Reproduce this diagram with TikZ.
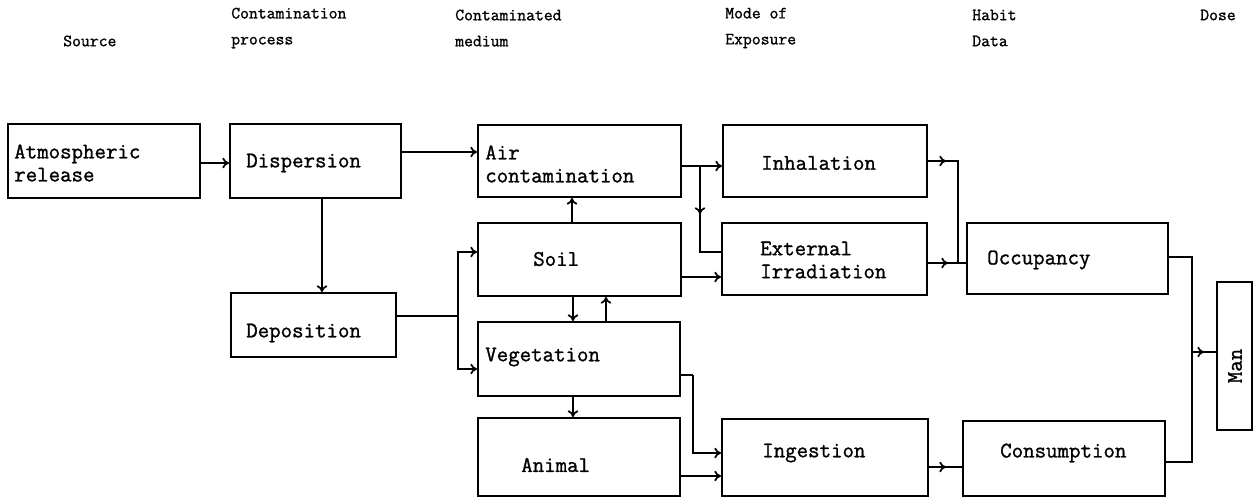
\documentclass[tikz,border=0pt]{standalone}
\usepackage{fontspec}
\setmonofont{Latin Modern Mono}[FakeBold=1.2]
\usetikzlibrary{arrows.meta,fit}
\begin{document}
\begin{tikzpicture}[x=0.75pt,y=-0.75pt,
  bx/.style={draw, line width=1.5pt, inner sep=0pt},
  lbl/.style={font=\fontsize{16.7}{17.25}\selectfont\ttfamily, align=left, inner sep=0pt, anchor=west},
  hdr/.style={font=\fontsize{12.9}{19.5}\selectfont\ttfamily, align=left, inner sep=0pt, anchor=west},
  ln/.style={line width=1.3pt},
  arr/.style={ln, -{To[length=5pt,width=8pt]}}]
\useasboundingbox (0,0) rectangle (1256,498);
% headers
\node[hdr] (h1) at (63,41) {Source};
\node[hdr] (h2) at (231,28) {Contamination\\process};
\node[hdr] (h3) at (455,28) {Contaminated\\medium};
\node[hdr] (h4) at (725,28) {Mode of\\Exposure};
\node[hdr] (h5) at (972,28) {Habit\\Data};
\node[hdr] (h6) at (1200,15) {Dose};
% boxes
\node[bx, fit={(8,124) (200,198)}] (atm) {};
\node[bx, fit={(230,124) (401,198)}] (disp) {};
\node[bx, fit={(478,125) (681,197)}] (air) {};
\node[bx, fit={(723,125) (927,197)}] (inh) {};
\node[bx, fit={(478,223) (681,296)}] (soil) {};
\node[bx, fit={(722,223) (927,295)}] (ext) {};
\node[bx, fit={(967,223) (1168,294)}] (occ) {};
\node[bx, fit={(231,293) (396,357)}] (dep) {};
\node[bx, fit={(478,322) (680,396)}] (veg) {};
\node[bx, fit={(478,418) (680,496)}] (ani) {};
\node[bx, fit={(722,419) (928,496)}] (ing) {};
\node[bx, fit={(963,421) (1165,496)}] (con) {};
\node[bx, fit={(1217,282) (1252,430)}] (man) {};
% labels
\node[lbl] (latm) at (14,163) {Atmospheric\\release};
\node[lbl] (ldisp) at (246,163) {Dispersion};
\node[lbl] (lair) at (485,164) {Air\\contamination};
\node[lbl] (linh) at (761,163) {Inhalation};
\node[lbl] (lsoil) at (533,259) {Soil};
\node[lbl] (lext) at (760,260) {External\\Irradiation};
\node[lbl] (locc) at (987,260) {Occupancy};
\node[lbl] (ldep) at (246,333) {Deposition};
\node[lbl] (lveg) at (485,357) {Vegetation};
\node[lbl] (lani) at (521,465) {Animal};
\node[lbl] (ling) at (762,453) {Ingestion};
\node[lbl] (lcon) at (1000,453) {Consumption};
\node[lbl, anchor=center, rotate=90] (lman) at (1235,366) {Man};
% connectors
\draw[arr] (atm.east |- 0,163) -- (disp.west |- 0,163);
\draw[arr] (disp.east |- 0,152) -- (air.west |- 0,152);
\draw[arr] (disp.south -| 322,0) -- (dep.north -| 322,0);
\draw[arr] (air.east |- 0,166) -- (inh.west |- 0,166);
\coordinate (b1) at (700,166);
\coordinate (b2) at (700,214);
\draw[ln] (b1) |- (ext.west |- 0,252);
\draw[arr] (b1) -- (b2);
\draw[arr] (soil.north -| 572,0) -- (air.south -| 572,0);
\draw[arr] (soil.east |- 0,277) -- (ext.west |- 0,277);
\draw[arr] (soil.south -| 573,0) -- (veg.north -| 573,0);
\draw[arr] (veg.north -| 606,0) -- (soil.south -| 606,0);
\coordinate (j1) at (458,316);
\draw[ln] (dep.east |- j1) -- (j1);
\draw[arr] (j1) |- (soil.west |- 0,252);
\draw[arr] (j1) |- (veg.west |- 0,369);
\draw[arr] (veg.south -| 573,0) -- (ani.north -| 573,0);
\coordinate (j2) at (693,375);
\draw[ln] (veg.east |- j2) -- (j2);
\draw[arr] (j2) |- (ing.west |- 0,453);
\draw[arr] (ani.east |- 0,476) -- (ing.west |- 0,476);
\coordinate (j3) at (958,161);
\coordinate (j4) at (958,263);
\coordinate (a1) at (946,161);
\coordinate (a2) at (948,263);
\coordinate (a3) at (946,467);
\draw[ln] (inh.east |- j3) -- (j3) -- (j4);
\draw[arr] (inh.east |- j3) -- (a1);
\draw[ln] (ext.east |- j4) -- (occ.west |- j4);
\draw[arr] (ext.east |- j4) -- (a2);
\draw[ln] (ing.east |- a3) -- (con.west |- a3);
\draw[arr] (ing.east |- a3) -- (a3);
\coordinate (j5) at (1192,257);
\coordinate (j6) at (1192,462);
\coordinate (j7) at (1192,352);
\coordinate (a4) at (1204,352);
\draw[ln] (occ.east |- j5) -- (j5) -- (j6) -- (con.east |- j6);
\draw[ln] (j7) -- (man.west |- j7);
\draw[arr] (j7) -- (a4);
\end{tikzpicture}
\end{document}
